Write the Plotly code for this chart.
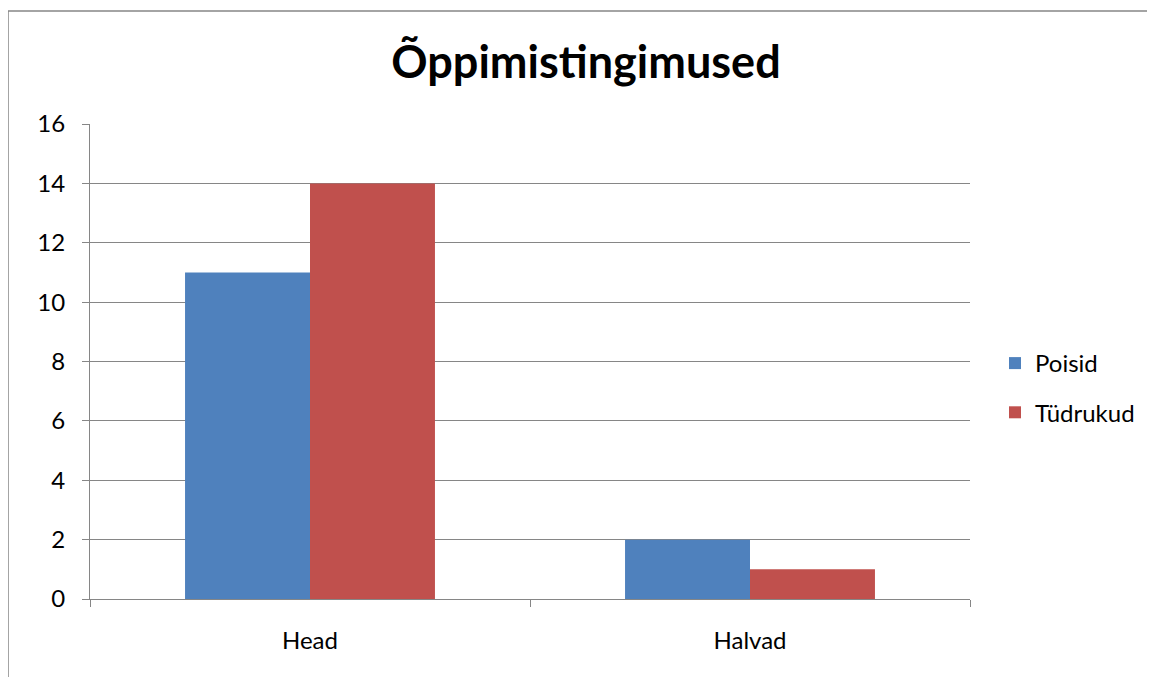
import plotly.graph_objects as go

categories = ["Head", "Halvad"]
poisid = [11, 2]
tudrukud = [14, 1]
series_names = ["Poisid", "Tüdrukud"]
title_text = "Õppimistingimused"

# page body has an 8px margin; compensate so plot area lands at page x 90..970, y 124..599
OFF = 8
W, H = 1155, 677
L, T = 90 - OFF, 124 - OFF
pw, ph = 880, 475
R, B = W - L - pw, H - T - ph

def px(x):  # page x -> paper
    return (x - OFF - L) / pw

def py(y):  # page y -> paper
    return (T + ph - (y - OFF)) / ph

font_family = "Lato, Carlito, Calibri, sans-serif"
grid = "#868686"

fig = go.Figure()
fig.add_trace(go.Bar(x=categories, y=poisid, name=series_names[0],
                     marker=dict(color="#4F81BD", line=dict(width=0)), legendgroup="a"))
fig.add_trace(go.Bar(x=categories, y=tudrukud, name=series_names[1],
                     marker=dict(color="#C0504D", line=dict(width=0)), legendgroup="b"))

fig.update_layout(
    width=W, height=H,
    margin=dict(l=L, r=R, t=T, b=B),
    paper_bgcolor="white", plot_bgcolor="white",
    barmode="group", bargap=0.432, bargroupgap=0,
    font=dict(family=font_family, size=24, color="black"),
    title=dict(text="<b>" + title_text + "</b>", x=(586 - OFF) / W, xanchor="center",
               y=1 - (62 - OFF) / H, yanchor="middle",
               font=dict(size=45, family=font_family, color="black")),
    showlegend=True,
    legend=dict(x=px(995), xanchor="left", y=py(388), yanchor="middle",
                font=dict(size=24, family=font_family), tracegroupgap=15,
                itemwidth=30, bgcolor="rgba(0,0,0,0)"),
    xaxis=dict(type="category", showgrid=False, showline=True, linecolor=grid, linewidth=1,
               ticks="outside", tickson="boundaries", ticklen=7, tickcolor=grid,
               tickfont=dict(size=24), ticklabelstandoff=20),
    yaxis=dict(range=[0, 16], dtick=2, showgrid=True, gridcolor=grid, gridwidth=1,
               showline=True, linecolor=grid, linewidth=1, zeroline=False,
               ticks="outside", ticklen=7, tickcolor=grid,
               tickfont=dict(size=24), ticklabelstandoff=12),
    shapes=[
        dict(type="line", xref="paper", yref="paper", x0=px(8), x1=px(8), y0=py(11), y1=py(H + 20),
             line=dict(color=grid, width=1.5)),
        dict(type="line", xref="paper", yref="paper", x0=px(8), x1=px(W + 20), y0=py(11), y1=py(11),
             line=dict(color=grid, width=1.5)),
    ],
)

fig.write_html("out.html")
